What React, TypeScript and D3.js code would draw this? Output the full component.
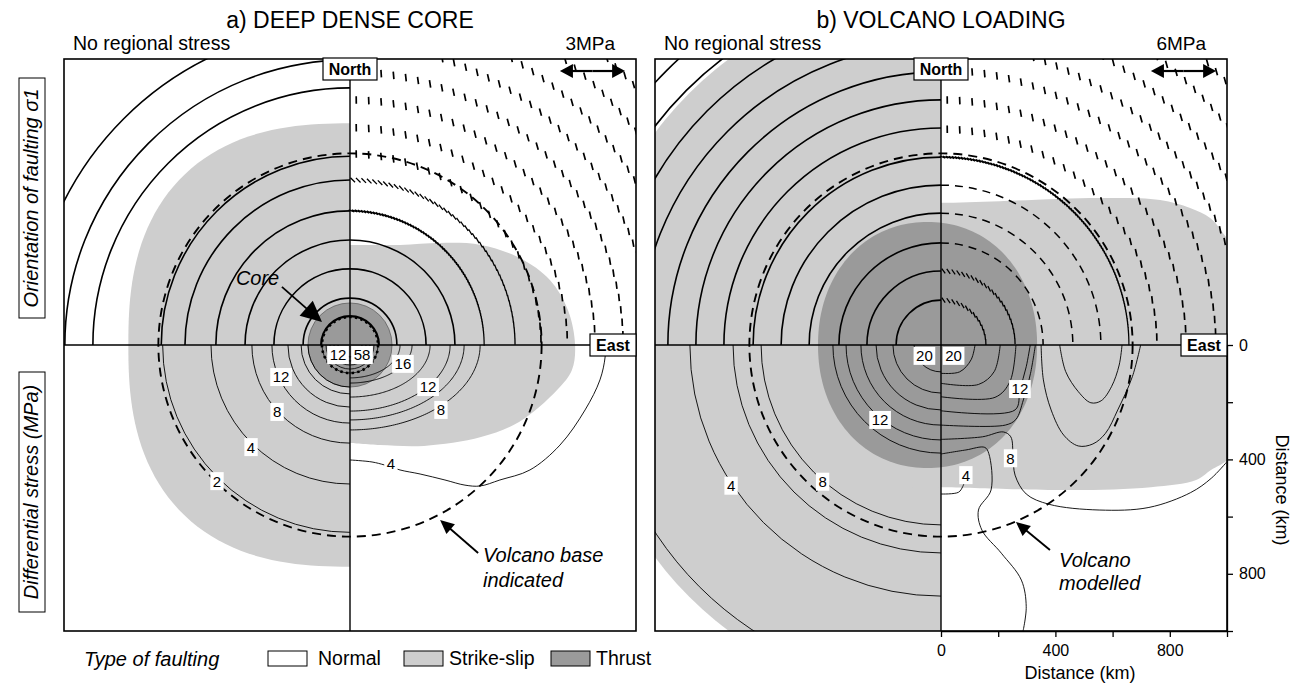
import React, { useEffect, useRef } from "react";
import * as d3 from "d3";

type Pt = [number, number];

const FONT = "'Liberation Sans', Arial, Helvetica, sans-serif";
const LIGHT = "#cecece";
const DARK = "#9a9a9a";
const KM_PX = 0.286;

const titles = ["a) DEEP DENSE CORE", "b) VOLCANO LOADING"];
const stressArrowLabels = ["3MPa", "6MPa"];
const sideLabels = ["Orientation of faulting σ1", "Differential stress (MPa)"];
const legendLabels = ["Normal", "Strike-slip", "Thrust"];
const legendFills = ["#ffffff", LIGHT, DARK];
const distanceTicks = [0, 200, 400, 600, 800, 1000];
const distanceLabelled = [0, 400, 800];
const volcanoRadius = 670;

// a) deep dense core, all in km from the centre
const aNwArcs = [101, 164, 266, 367, 469, 577, 660, 899, 997, 1119];
const aNeSolid = [101, 164, 266, 367];
const aNeDense = [469];
const aNeSlant = [577];
const aNeTicks = [668, 760, 857, 955, 1052, 1150, 1248, 1346, 1444];
const aWestGray = 775;
const aEastGray: Pt[] = [
  [0, 350], [175, 350], [315, 357], [458, 350], [594, 304], [699, 227], [762, 122], [787, 0],
  [776, -87], [724, -157], [591, -269], [458, -322], [259, -353], [105, -350], [0, -343],
];
const aThrust = 147;
const aCore = 98;
const aSwRadii = [655, 486, 343, 273, 217, 171, 147];
const aSeAxes: Pt[] = [[455, 297], [399, 262], [350, 231], [280, 182], [217, 133], [175, 115]];
const aInner = [98, 84, 70, 56, 42];
const aSeFour: Pt[] = [
  [0, -402], [77, -409], [122, -420], [175, -437], [245, -451], [332, -472], [402, -490],
  [455, -493], [524, -472], [629, -437], [734, -350], [822, -227], [874, -122], [892, -42], [892, 0],
];
const aLabels = [
  { t: "2", x: -465, y: -476 }, { t: "4", x: -346, y: -357 }, { t: "8", x: -255, y: -234 },
  { t: "12", x: -241, y: -112 }, { t: "12", x: -42, y: -35 }, { t: "58", x: 42, y: -35 },
  { t: "16", x: 185, y: -66 }, { t: "12", x: 273, y: -147 }, { t: "8", x: 318, y: -227 },
  { t: "4", x: 143, y: -416 },
];

// b) volcano loading
const bNwArcs = [157, 259, 357, 461, 559, 657, 759, 857, 955, 1056, 1157, 1259, 1357];
const bNeSlant = [157, 259];
const bNeDashed = [357, 461, 559];
const bNeDense = [657];
const bNeTicks = [755, 857, 961, 1056, 1157, 1259, 1357, 1457];
const bWestGray = 1245;
const bEastGray: Pt[] = [
  [-100, 497], [0, 497], [206, 503], [556, 514], [766, 507], [871, 479], [941, 444], [983, 395],
  [1040, 300], [1040, -330], [1000, -402], [944, -437], [892, -472], [734, -497], [455, -507],
  [0, -497], [-100, -497],
];
const bThrust = { cx: -47, rx: 383, ry: 430 };
const bSwRadii = [1195, 878, 727, 629, 378, 332, 280, 227, 168, 94];
const bSe20: Pt[] = [[0, -99], [65, -94], [105, -52], [119, 0]];
const bSe18: Pt[] = [[0, -134], [131, -138], [186, -93], [207, 0]];
const bSe16: Pt[] = [[0, -181], [189, -183], [241, -128], [262, 0]];
const bSe12: Pt[] = [[0, -230], [259, -227], [276, -157], [298, -76], [312, 0]];
const bSe10: Pt[] = [[0, -280], [225, -280], [262, -260], [288, -192], [313, -99], [330, 0]];
const bSe8: Pt[] = [
  [0, -330], [145, -321], [218, -304], [244, -321], [252, -390], [259, -455], [298, -521],
  [378, -557], [553, -577], [727, -568], [873, -516], [945, -466], [1000, -408],
];
const bSe4a: Pt[] = [
  [0, -381], [87, -367], [153, -358], [167, -379], [175, -507], [131, -577], [143, -647],
  [211, -728], [281, -822], [298, -915], [287, -1000],
];
const bSe4b: Pt[] = [[0, -521], [61, -515], [76, -495], [84, -472]];
const bUInner: Pt[] = [[415, 0], [436, -93], [480, -163], [524, -202], [560, -195], [596, -146], [623, -70], [633, 0]];
const bUMiddle: Pt[] = [
  [350, 0], [358, -122], [385, -227], [429, -315], [480, -353], [531, -346], [575, -309],
  [618, -227], [669, -111], [698, 0],
];
const bLabels = [
  { t: "20", x: -58, y: -38 }, { t: "20", x: 44, y: -38 }, { t: "12", x: -213, y: -262 },
  { t: "12", x: 276, y: -154 }, { t: "8", x: -414, y: -478 }, { t: "8", x: 243, y: -396 },
  { t: "4", x: -734, y: -492 }, { t: "4", x: 87, y: -455 },
];

const stressArrowKm = [734, 962, 958];
const coreArrow: Pt[] = [[-238, 203], [-98, 80]];
const volcanoArrowA: Pt[] = [[448, -727], [315, -612]];
const volcanoArrowB: Pt[] = [[381, -717], [262, -619]];

const deg = Math.PI / 180;
const tickAngle = (th: number) => (90 + 16 * Math.sin(2 * th)) * deg;
const slantAngle = (amp: number) => (th: number) => (90 + amp * Math.sin(th)) * deg;
const denseAngle = (th: number) => th + Math.PI / 2 - 0.35 * Math.sin(th);

function superellipse(cx: number, rx: number, ry: number, n: number, a0: number, a1: number, steps = 90): Pt[] {
  return d3.range(steps + 1).map((i) => {
    const a = a0 + ((a1 - a0) * i) / steps;
    const c = Math.cos(a), s = Math.sin(a);
    const f = Math.pow(Math.pow(Math.abs(c), n) + Math.pow(Math.abs(s), n), 1 / n);
    return [cx + (rx * c) / f, (ry * s) / f] as Pt;
  });
}

function makeFrame(svg: any, id: string, cx: number) {
  const x = d3.scaleLinear().domain([-1000, 1000]).range([cx - 1000 * KM_PX, cx + 1000 * KM_PX]);
  const y = d3.scaleLinear().domain([-1000, 1000]).range([345 + 1000 * KM_PX, 345 - 1000 * KM_PX]);
  const k = x(1) - x(0);
  const ox = x(0), oy = y(0);
  svg.append("clipPath").attr("id", id).append("rect")
    .attr("x", x(-1000)).attr("y", y(1000))
    .attr("width", x(1000) - x(-1000)).attr("height", y(-1000) - y(1000));
  const g = svg.append("g").attr("clip-path", `url(#${id})`);
  const line = d3.line<Pt>().x((d) => x(d[0])).y((d) => y(d[1]));
  const smooth = d3.line<Pt>().x((d) => x(d[0])).y((d) => y(d[1])).curve(d3.curveCatmullRom.alpha(0.5));
  const arc = (R: number, a0: number, a1: number) => {
    const q = d3.path();
    q.arc(ox, oy, R * k, a0, a1);
    return q.toString();
  };
  const stroke = (d: string, w: number, dash?: string) =>
    g.append("path").attr("d", d).attr("fill", "none").attr("stroke", "#000")
      .attr("stroke-width", w).attr("stroke-dasharray", dash || null);
  return { x, y, k, ox, oy, g, line, smooth, arc, stroke };
}

function ringTicks(f: any, R: number, spacing: number, len: number, angle: (th: number) => number) {
  const r = R * f.k;
  const q = d3.path();
  for (let s = spacing * 0.5; s < (r * Math.PI) / 2; s += spacing) {
    const th = Math.PI / 2 - s / r;
    const phi = angle(th);
    const px = f.ox + r * Math.cos(th), py = f.oy - r * Math.sin(th);
    const ux = (Math.cos(phi) * len) / 2, uy = (-Math.sin(phi) * len) / 2;
    q.moveTo(px - ux, py - uy);
    q.lineTo(px + ux, py + uy);
  }
  return q.toString();
}

function arrow(svg: any, from: Pt, to: Pt, len: number, half: number, width: number) {
  const dx = to[0] - from[0], dy = to[1] - from[1];
  const L = Math.hypot(dx, dy);
  const ux = dx / L, uy = dy / L;
  const bx = to[0] - ux * len, by = to[1] - uy * len;
  svg.append("line").attr("x1", from[0]).attr("y1", from[1]).attr("x2", bx + ux).attr("y2", by + uy)
    .attr("stroke", "#000").attr("stroke-width", width);
  svg.append("path")
    .attr("d", `M${to[0]},${to[1]}L${bx - uy * half},${by + ux * half}L${bx + uy * half},${by - ux * half}Z`)
    .attr("fill", "#000");
}

function decorate(svg: any, f: any, i: number, labels: { t: string; x: number; y: number }[]) {
  const { x, y, ox, oy } = f;
  const top = y(1000), bottom = y(-1000), left = x(-1000), right = x(1000);

  f.stroke(f.arc(volcanoRadius, 0, 2 * Math.PI), 1.9, "9,6");

  svg.append("line").attr("x1", ox).attr("x2", ox).attr("y1", top).attr("y2", bottom)
    .attr("stroke", "#000").attr("stroke-width", 1.4);
  svg.append("line").attr("x1", left).attr("x2", right).attr("y1", oy).attr("y2", oy)
    .attr("stroke", "#000").attr("stroke-width", 1.4);
  svg.append("rect").attr("x", left).attr("y", top).attr("width", right - left).attr("height", bottom - top)
    .attr("fill", "none").attr("stroke", "#000").attr("stroke-width", 1.6);

  // contour labels
  const lg = svg.append("g").attr("font-family", FONT).attr("font-size", 15);
  labels.forEach((d) => {
    const t = lg.append("text").attr("x", x(d.x)).attr("y", y(d.y)).attr("text-anchor", "middle")
      .attr("dy", "0.36em").text(d.t);
    const w = (t.node() as SVGTextElement).getComputedTextLength();
    lg.insert("rect", () => t.node()).attr("x", x(d.x) - w / 2 - 2.5).attr("y", y(d.y) - 9)
      .attr("width", w + 5).attr("height", 18).attr("fill", "#fff");
  });

  // compass boxes
  svg.append("rect").attr("x", ox - 27).attr("y", top - 1).attr("width", 54).attr("height", 22)
    .attr("fill", "#fff").attr("stroke", "#000").attr("stroke-width", 1.2);
  svg.append("text").attr("x", ox).attr("y", top + 15.5).attr("text-anchor", "middle")
    .attr("font-family", FONT).attr("font-weight", "bold").attr("font-size", 16).text("North");
  svg.append("rect").attr("x", right - 46).attr("y", oy - 11).attr("width", 46).attr("height", 22)
    .attr("fill", "#fff").attr("stroke", "#000").attr("stroke-width", 1.2);
  svg.append("text").attr("x", right - 23).attr("y", oy + 6).attr("text-anchor", "middle")
    .attr("font-family", FONT).attr("font-weight", "bold").attr("font-size", 16).text("East");

  svg.append("text").attr("x", ox).attr("y", 28).attr("text-anchor", "middle")
    .attr("font-family", FONT).attr("font-size", 23).text(titles[i]);
  svg.append("text").attr("x", left + 9).attr("y", 50)
    .attr("font-family", FONT).attr("font-size", 19.5).text("No regional stress");
  svg.append("text").attr("x", x(927)).attr("y", 50).attr("text-anchor", "end")
    .attr("font-family", FONT).attr("font-size", 19).text(stressArrowLabels[i]);

  const ax0 = x(stressArrowKm[0]), ax1 = x(stressArrowKm[1]), ay = y(stressArrowKm[2]);
  const mid = (ax0 + ax1) / 2;
  arrow(svg, [mid, ay], [ax0, ay], 13, 7, 2.2);
  arrow(svg, [mid, ay], [ax1, ay], 13, 7, 2.2);
}

function drawCore(svg: any) {
  const f = makeFrame(svg, "clipA", 350);
  const { g, k, ox, oy, line, smooth, arc, stroke } = f;

  g.append("path")
    .attr("d", line([...superellipse(0, aWestGray, aWestGray, 2.5, Math.PI / 2, 1.5 * Math.PI), [0, 0]]) + "Z")
    .attr("fill", LIGHT);
  g.append("path").attr("d", smooth(aEastGray) + "Z").attr("fill", LIGHT);
  g.append("circle").attr("cx", ox).attr("cy", oy).attr("r", aThrust * k)
    .attr("fill", DARK).attr("stroke", "#555").attr("stroke-width", 0.7);

  aNwArcs.forEach((R, i) => stroke(arc(R, Math.PI, 1.5 * Math.PI), i === 0 ? 2.2 : 1.6));
  aNeSolid.forEach((R, i) => stroke(arc(R, -Math.PI / 2, 0), i === 0 ? 2.2 : 1.6));
  aNeDense.forEach((R) => stroke(ringTicks(f, R, 3, 6, denseAngle), 1.2));
  aNeSlant.forEach((R) => stroke(ringTicks(f, R, 5.5, 6.5, slantAngle(45)), 1.3));
  aNeTicks.forEach((R) => stroke(ringTicks(f, R, 12.5, 7.5, tickAngle), 1.7));

  aSwRadii.forEach((R) => stroke(arc(R, Math.PI / 2, Math.PI), 0.9));
  aSeAxes.forEach(([a, b]) => stroke(line(superellipse(0, a, b, 2, 0, -Math.PI / 2)) as string, 0.9));
  aInner.forEach((R) => stroke(arc(R, 0, Math.PI), 0.8));
  stroke(smooth(aSeFour) as string, 0.9);

  stroke(arc(aCore, 0, 2 * Math.PI), 2.6, "2.5,3.2");

  decorate(svg, f, 0, aLabels);

  const p = (d: Pt): Pt => [f.x(d[0]), f.y(d[1])];
  arrow(svg, p(coreArrow[0]), p(coreArrow[1]), 21, 10, 1.8);
  svg.append("text").attr("x", f.x(-399)).attr("y", f.y(210)).attr("font-family", FONT)
    .attr("font-style", "italic").attr("font-size", 20).text("Core");
  arrow(svg, p(volcanoArrowA[0]), p(volcanoArrowA[1]), 14, 6.5, 1.9);
  svg.append("text").attr("x", f.x(465)).attr("y", f.y(-759)).attr("font-family", FONT)
    .attr("font-style", "italic").attr("font-size", 20).text("Volcano base");
  svg.append("text").attr("x", f.x(465)).attr("y", f.y(-846)).attr("font-family", FONT)
    .attr("font-style", "italic").attr("font-size", 20).text("indicated");
}

function drawLoading(svg: any) {
  const f = makeFrame(svg, "clipB", 941);
  const { g, k, ox, oy, line, smooth, arc, stroke } = f;

  g.append("path").attr("transform", `translate(${ox},${oy})`)
    .attr("d", d3.arc()({ innerRadius: 0, outerRadius: bWestGray * k, startAngle: Math.PI, endAngle: 2 * Math.PI }))
    .attr("fill", LIGHT);
  g.append("path").attr("d", smooth(bEastGray) + "Z").attr("fill", LIGHT);
  g.append("path")
    .attr("d", line(superellipse(bThrust.cx, bThrust.rx, bThrust.ry, 2.1, 0, 2 * Math.PI, 180)) + "Z")
    .attr("fill", DARK);

  bNwArcs.forEach((R) => stroke(arc(R, Math.PI, 1.5 * Math.PI), 1.6));
  bNeSlant.forEach((R) => stroke(ringTicks(f, R, 5, 6, slantAngle(35)), 1.3));
  bNeDashed.forEach((R) => stroke(arc(R, -Math.PI / 2, 0), 1.5, "8,6"));
  bNeDense.forEach((R) => stroke(ringTicks(f, R, 3, 6, denseAngle), 1.2));
  bNeTicks.forEach((R) => stroke(ringTicks(f, R, 12.5, 7.5, tickAngle), 1.7));

  bSwRadii.forEach((R) => stroke(arc(R, Math.PI / 2, Math.PI), 0.9));
  [bSe20, bSe18, bSe16, bSe12, bSe10, bSe8, bSe4a, bSe4b, bUInner, bUMiddle]
    .forEach((l) => stroke(smooth(l) as string, 0.9));

  decorate(svg, f, 1, bLabels);

  const p = (d: Pt): Pt => [f.x(d[0]), f.y(d[1])];
  arrow(svg, p(volcanoArrowB[0]), p(volcanoArrowB[1]), 14, 6.5, 1.9);
  svg.append("text").attr("x", f.x(413)).attr("y", f.y(-776)).attr("font-family", FONT)
    .attr("font-style", "italic").attr("font-size", 20).text("Volcano");
  svg.append("text").attr("x", f.x(413)).attr("y", f.y(-857)).attr("font-family", FONT)
    .attr("font-style", "italic").attr("font-size", 20).text("modelled");

  // distance axes
  const dx = d3.scaleLinear().domain([0, 1000]).range([f.x(0), f.x(1000)]);
  const dy = d3.scaleLinear().domain([0, 1000]).range([f.y(0), f.y(-1000)]);
  const fmt = (d: any) => (distanceLabelled.includes(+d) ? String(d) : "");
  const bx = svg.append("g").attr("transform", `translate(0,${f.y(-1000)})`)
    .call(d3.axisBottom(dx).tickValues(distanceTicks).tickSize(6).tickSizeOuter(0).tickPadding(8).tickFormat(fmt));
  const by = svg.append("g").attr("transform", `translate(${f.x(1000)},0)`)
    .call(d3.axisRight(dy).tickValues(distanceTicks).tickSize(6).tickSizeOuter(0).tickPadding(6).tickFormat(fmt));
  [bx, by].forEach((a) => {
    a.attr("font-family", FONT).attr("font-size", 16);
    a.selectAll("line").attr("stroke-width", 1.3);
    a.select(".domain").attr("stroke-width", 1.3);
    a.selectAll("text").attr("fill", "#000");
  });
  svg.append("text").attr("x", 1080).attr("y", 679).attr("text-anchor", "middle")
    .attr("font-family", FONT).attr("font-size", 18).text("Distance (km)");
  svg.append("text").attr("transform", `translate(1276,490) rotate(90)`).attr("text-anchor", "middle")
    .attr("font-family", FONT).attr("font-size", 18).text("Distance (km)");
}

function drawFigure(svg: any) {
  svg.append("rect").attr("width", 1302).attr("height", 683).attr("fill", "#fff");
  drawCore(svg);
  drawLoading(svg);

  const sideBoxes = [[78, 240], [372, 240]];
  sideBoxes.forEach(([y0, h], i) => {
    svg.append("rect").attr("x", 19).attr("y", y0).attr("width", 26).attr("height", h)
      .attr("fill", "none").attr("stroke", "#000").attr("stroke-width", 1);
    svg.append("text").attr("transform", `translate(38,${y0 + h / 2}) rotate(-90)`)
      .attr("text-anchor", "middle").attr("font-family", FONT).attr("font-style", "italic")
      .attr("font-size", 20).text(sideLabels[i]);
  });

  svg.append("text").attr("x", 84).attr("y", 666).attr("font-family", FONT)
    .attr("font-style", "italic").attr("font-size", 20).text("Type of faulting");
  const boxX = [268, 404, 551];
  const textX = [318, 449, 596];
  legendLabels.forEach((name, i) => {
    svg.append("rect").attr("x", boxX[i]).attr("y", 651).attr("width", 39).attr("height", 15)
      .attr("fill", legendFills[i]).attr("stroke", "#000").attr("stroke-width", 1);
    svg.append("text").attr("x", textX[i]).attr("y", 665).attr("font-family", FONT)
      .attr("font-size", 19.5).text(name);
  });
}

export default function App() {
  const ref = useRef<SVGSVGElement>(null);
  useEffect(() => {
    const svg = d3.select(ref.current);
    svg.selectAll("*").remove();
    drawFigure(svg);
  }, []);
  return (
    <svg
      ref={ref}
      width={1302}
      height={683}
      style={{ position: "absolute", left: 0, top: 0, display: "block" }}
    />
  );
}
